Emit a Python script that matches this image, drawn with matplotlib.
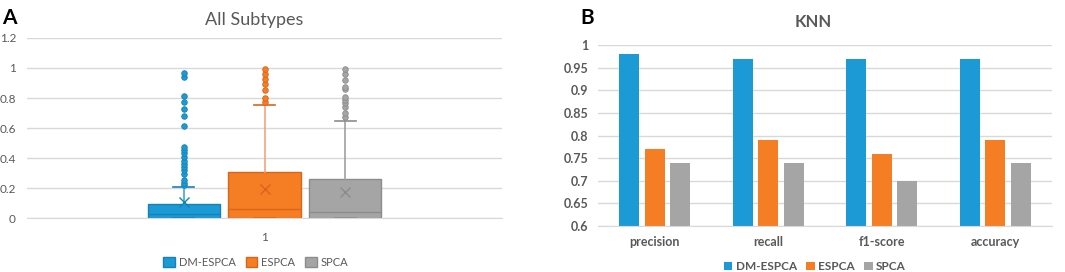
import matplotlib.pyplot as plt
from matplotlib.patches import Patch
import numpy as np

plt.rcParams['font.family'] = ['Lato', 'DejaVu Sans']

# ---- panel A: box plot stats ----
methods = ['DM-ESPCA', 'ESPCA', 'SPCA']
q1 = [0.002, 0.002, 0.002]
medians = [0.027, 0.058, 0.040]
q3 = [0.091, 0.304, 0.262]
means = [0.109, 0.191, 0.171]
whis_lo = [0.002, 0.002, 0.002]
whis_hi = [0.204, 0.751, 0.644]
fliers_dm = [0.22, 0.236, 0.253, 0.291, 0.32, 0.342, 0.36, 0.38, 0.409, 0.431,
             0.453, 0.476, 0.616, 0.682, 0.727, 0.776, 0.813, 0.938, 0.969]
fliers_es = [0.776, 0.802, 0.853, 0.891, 0.924, 0.958, 0.993]
fliers_sp = [0.676, 0.698, 0.742, 0.764, 0.787, 0.809, 0.858, 0.876, 0.92, 0.96, 0.993]
fliers = [fliers_dm, fliers_es, fliers_sp]

# ---- panel B: KNN metrics ----
metrics = ['precision', 'recall', 'f1-score', 'accuracy']
dm_espca = [0.98, 0.97, 0.97, 0.97]
espca = [0.77, 0.79, 0.76, 0.79]
spca = [0.74, 0.74, 0.70, 0.74]

colors = ['#1C9AD6', '#F57D23', '#A5A5A5']
dark = ['#1581B5', '#D9651A', '#8C8C8C']
light = ['#3FA6DA', '#F4A47A', '#A0A0A0']
grid_c = '#D9D9D9'
text_c = '#595959'

fig = plt.figure(figsize=(10.65, 2.72), dpi=100)

# ---------------- A ----------------
axA = fig.add_axes([0.0254, 0.1985, 0.446, 0.6618])
positions = [0.33, 0.5, 0.67]
stats = []
for i in range(3):
    stats.append(dict(med=medians[i], q1=q1[i], q3=q3[i], whislo=whis_lo[i],
                      whishi=whis_hi[i], mean=means[i], fliers=fliers[i]))
for i in range(3):
    axA.bxp([stats[i]], positions=[positions[i]], widths=0.152, patch_artist=True,
            showmeans=True, capwidths=0.044,
            boxprops=dict(facecolor=colors[i], edgecolor=dark[i], linewidth=1),
            medianprops=dict(color=dark[i], linewidth=1),
            whiskerprops=dict(color=light[i], linewidth=1.2),
            capprops=dict(color=dark[i], linewidth=1.2),
            meanprops=dict(marker='x', markeredgecolor=dark[i], markersize=7,
                           markeredgewidth=1),
            flierprops=dict(marker='o', markerfacecolor=colors[i],
                            markeredgecolor=dark[i], markersize=4, markeredgewidth=0.6))
axA.set_xlim(0, 1)
axA.set_ylim(0, 1.2)
axA.set_yticks(np.arange(0, 1.21, 0.2))
axA.set_yticklabels(['0', '0.2', '0.4', '0.6', '0.8', '1', '1.2'])
axA.set_xticks([0.5])
axA.set_xticklabels(['1'])
axA.yaxis.grid(True, color=grid_c, linewidth=1)
axA.set_axisbelow(True)
for s in ['top', 'right', 'left']:
    axA.spines[s].set_visible(False)
axA.spines['bottom'].set_color(grid_c)
axA.tick_params(length=0, labelsize=8.5, colors=text_c, pad=8)
axA.tick_params(axis='x', pad=10)
axA.set_title('All Subtypes', fontsize=13, color=text_c, pad=9, x=0.478)
handlesA = [Patch(facecolor=colors[i], edgecolor=dark[i], label=methods[i]) for i in range(3)]
axA.legend(handles=handlesA, loc='center', bbox_to_anchor=(0.482, -0.245), ncol=3,
           frameon=False, fontsize=8, labelcolor=text_c, handlelength=1.0,
           handleheight=1.0, handletextpad=0.4, columnspacing=0.9)
fig.text(0.002, 0.97, 'A', fontsize=15, fontweight='bold', va='top')

# ---------------- B ----------------
axB = fig.add_axes([0.5615, 0.169, 0.4263, 0.6654])
x = np.arange(len(metrics))
bw = 0.176
off = 0.224
for vals, c, k in zip([dm_espca, espca, spca], colors, [-1, 0, 1]):
    axB.bar(x + k * off, np.array(vals) - 0.6, bw, bottom=0.6, color=c)
axB.set_xlim(-0.5, 3.5)
axB.set_ylim(0.6, 1.0)
axB.set_yticks(np.arange(0.6, 1.001, 0.05))
axB.set_yticklabels(['0.6', '0.65', '0.7', '0.75', '0.8', '0.85', '0.9', '0.95', '1'])
axB.set_xticks(x)
axB.set_xticklabels(metrics)
axB.yaxis.grid(True, color=grid_c, linewidth=1)
axB.set_axisbelow(True)
for s in ['top', 'right', 'left']:
    axB.spines[s].set_visible(False)
axB.spines['bottom'].set_color(grid_c)
axB.tick_params(length=0, labelsize=9, colors=text_c, pad=7)
for lab in axB.get_xticklabels() + axB.get_yticklabels():
    lab.set_fontweight('bold')
axB.set_title('KNN', fontsize=12, color=text_c, fontweight='bold', pad=13, x=0.474)
handlesB = [Patch(facecolor=colors[i], label=methods[i]) for i in range(3)]
legB = axB.legend(handles=handlesB, loc='center', bbox_to_anchor=(0.478, -0.225), ncol=3,
                  frameon=False, fontsize=8.5, labelcolor=text_c, handlelength=0.7,
                  handleheight=0.7, handletextpad=0.3, columnspacing=0.8)
for t in legB.get_texts():
    t.set_fontweight('bold')
fig.text(0.5445, 0.97, 'B', fontsize=15, fontweight='bold', va='top')

fig.savefig('out.png', dpi=100)
